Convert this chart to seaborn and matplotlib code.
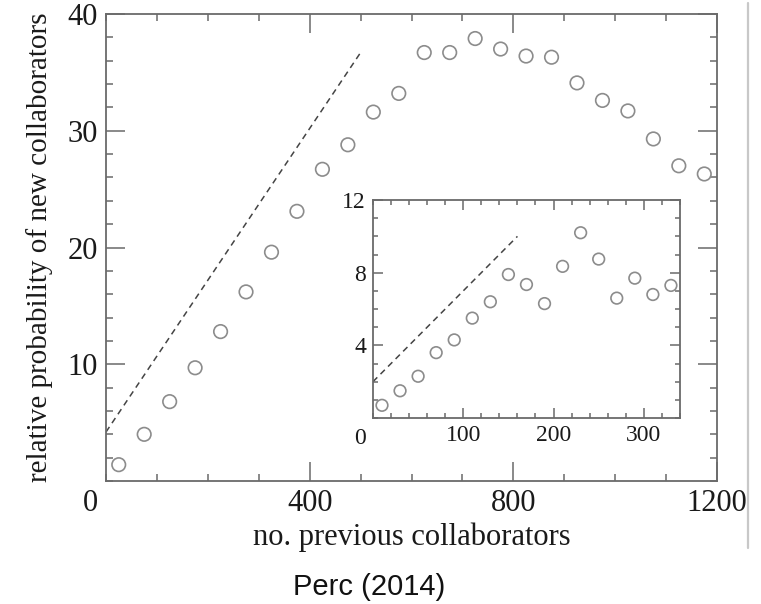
import matplotlib
matplotlib.use("Agg")
import matplotlib.pyplot as plt
from matplotlib.lines import Line2D
from matplotlib.ticker import MultipleLocator
import seaborn as sns

# main panel: relative probability vs number of previous collaborators
main_x = [25, 75, 125, 175, 225, 275, 325, 375, 425, 475, 525, 575,
          625, 675, 725, 775, 825, 875, 925, 975, 1025, 1075, 1125, 1175]
main_y = [1.4, 4.0, 6.8, 9.7, 12.8, 16.2, 19.6, 23.1, 26.7, 28.8, 31.6, 33.2,
          36.7, 36.7, 37.9, 37.0, 36.4, 36.3, 34.1, 32.6, 31.7, 29.3, 27.0, 26.3]
main_fit_x = [0, 500]
main_fit_y = [4.2, 36.7]

# inset panel
ins_x = [10, 30, 50, 70, 90, 110, 130, 150, 170, 190, 210, 230, 250, 270, 290, 310, 330]
ins_y = [0.7, 1.5, 2.3, 3.6, 4.3, 5.5, 6.4, 7.9, 7.35, 6.3, 8.35, 10.2, 8.75,
         6.6, 7.7, 6.8, 7.3]
ins_fit_x = [0, 160]
ins_fit_y = [2.0, 10.0]

sns.set_theme(style="ticks")
plt.rcParams["font.family"] = ["Liberation Serif", "DejaVu Serif"]

spine_col = "#6a6a6a"
mark_col = "#8c8c8c"
text_col = "#1a1a1a"

fig = plt.figure(figsize=(7.61, 6.04), dpi=100)
ax = fig.add_axes([0.1393, 0.2036, 0.8029, 0.7732])
ins = fig.add_axes([0.4901, 0.3079, 0.4034, 0.3609])

def style_axes(a, major_len, minor_len, fs, pad):
    for s in a.spines.values():
        s.set_color(spine_col)
        s.set_linewidth(1.3)
    a.tick_params(which="both", direction="in", top=True, right=True,
                  color=spine_col, width=1.1, labelsize=fs, labelcolor=text_col)
    a.tick_params(which="major", length=major_len, pad=pad)
    a.tick_params(which="minor", length=minor_len)

# main
sns.lineplot(x=main_fit_x, y=main_fit_y, ax=ax, color="#444444", lw=1.1,
             linestyle=(0, (4, 3)))
sns.scatterplot(x=main_x, y=main_y, ax=ax, s=95, marker="o", facecolor="none",
                edgecolor=mark_col, linewidth=1.2)
ax.set_xlim(0, 1200)
ax.set_ylim(0, 40)
ax.set_xticks([400, 800, 1200])
ax.set_yticks([10, 20, 30, 40])
ax.xaxis.set_minor_locator(MultipleLocator(100))
ax.yaxis.set_minor_locator(MultipleLocator(2))
style_axes(ax, 14, 5, 22, 6)
ax.annotate("0", xy=(0, 0), xycoords="data", xytext=(-6, -16),
            textcoords="offset points", ha="right", va="center",
            fontsize=22, color=text_col)
ax.set_xlabel("no. previous collaborators", fontsize=22, color=text_col, labelpad=3)
ax.set_ylabel("relative probability of new collaborators", fontsize=21,
              color=text_col, labelpad=10)

# inset
sns.lineplot(x=ins_fit_x, y=ins_fit_y, ax=ins, color="#444444", lw=1.1,
             linestyle=(0, (4, 3)))
sns.scatterplot(x=ins_x, y=ins_y, ax=ins, s=70, marker="o", facecolor="none",
                edgecolor=mark_col, linewidth=1.2)
ins.set_xlim(0, 340)
ins.set_ylim(0, 12)
ins.set_xticks([100, 200, 300])
ins.set_yticks([4, 8, 12])
ins.xaxis.set_minor_locator(MultipleLocator(20))
ins.yaxis.set_minor_locator(MultipleLocator(1))
style_axes(ins, 7, 3.5, 17, 5)
ins.annotate("0", xy=(0, 0), xycoords="data", xytext=(-5, -15),
             textcoords="offset points", ha="right", va="center",
             fontsize=17, color=text_col)

fig.text(369 / 761, 1 - 587 / 604, "Perc (2014)", ha="center", va="center",
         fontsize=21, family=["Liberation Sans", "DejaVu Sans"], color="#111111")

# thin grey border line from the screenshot
fig.add_artist(Line2D([748 / 761, 748 / 761], [1 - 3 / 604, 1 - 548 / 604],
                      transform=fig.transFigure, color="#c8c8c8", lw=1.6))

fig.savefig("out.png", dpi=100)
